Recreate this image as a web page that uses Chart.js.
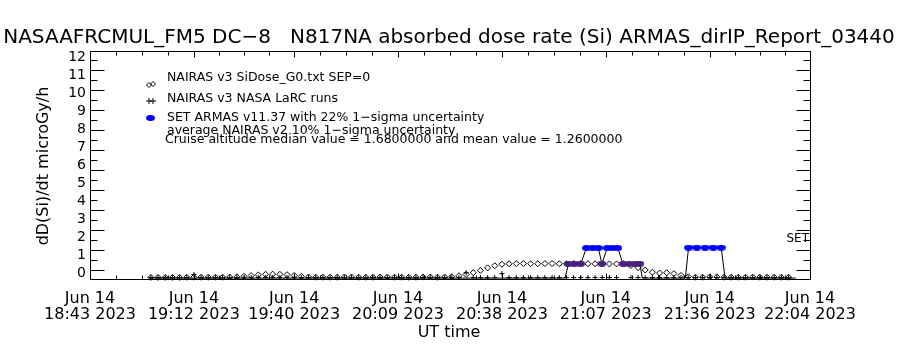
<!DOCTYPE html>
<html>
<head>
<meta charset="utf-8">
<script src="https://cdn.jsdelivr.net/npm/chart.js@4.4.1/dist/chart.umd.min.js"></script>
<style>
  html, body { margin: 0; padding: 0; background: #fff; }
  canvas { display: block; }
</style>
</head>
<body>
<canvas id="dose" width="900" height="350"></canvas>
<script>
// x is minutes after 18:43 UT on Jun 14 2023
var startTime = '18:43';
var tickTimes = ['18:43', '19:12', '19:40', '20:09', '20:38', '21:07', '21:36', '22:04'];
var tickDay = 'Jun 14';
var tickYear = '2023';
var doseTicks = [0, 1, 2, 3, 4, 5, 6, 7, 8, 9, 10, 11, 12];

// NAIRAS model runs (same time stamps for both)
var modelTime = [17, 19, 21, 23, 25, 27, 29, 31, 33, 35, 37, 39, 41, 43, 45, 47, 49, 51, 53, 55,
  57, 59, 61, 63, 65, 67, 69, 71, 73, 75, 77, 79, 81, 83, 85, 87, 89, 91, 93, 95,
  97, 99, 101, 103, 105, 107, 109, 111, 113, 115, 117, 119, 121, 123, 125, 127, 129, 131, 133, 135,
  137, 139, 141, 143, 145, 147, 149, 151, 153, 155, 157, 159, 161, 163, 165, 167, 169, 171, 173, 175,
  177, 179, 181, 183, 185, 187, 189, 191, 193, 195];
var nairasG0 = [0.04, 0.04, 0.04, 0.04, 0.04, 0.05, 0.05, 0.05, 0.05, 0.05, 0.05, 0.06, 0.07, 0.1, 0.14, 0.18, 0.21, 0.22, 0.21, 0.19,
  0.15, 0.1, 0.06, 0.05, 0.05, 0.05, 0.05, 0.06, 0.06, 0.05, 0.05, 0.05, 0.06, 0.06, 0.05, 0.05, 0.05, 0.05, 0.06, 0.06,
  0.05, 0.06, 0.08, 0.13, 0.2, 0.3, 0.43, 0.57, 0.69, 0.77, 0.8, 0.81, 0.81, 0.8, 0.8, 0.81, 0.81, 0.8, 0.8, 0.81,
  0.81, 0.8, 0.8, 0.8, 0.79, 0.79, 0.78, 0.7, 0.58, 0.45, 0.33, 0.28, 0.3, 0.25, 0.15, 0.08, 0.05, 0.05, 0.06, 0.07,
  0.05, 0.05, 0.05, 0.05, 0.06, 0.05, 0.05, 0.05, 0.05, 0.05];
var nairasLarc = [0.03, 0.03, 0.03, 0.03, 0.03, 0.03, 0.2, 0.03, 0.03, 0.03, 0.03, 0.03, 0.03, 0.03, 0.03, 0.03, 0.03, 0.03, 0.03, 0.03,
  0.03, 0.03, 0.03, 0.03, 0.03, 0.03, 0.03, 0.03, 0.03, 0.03, 0.03, 0.03, 0.03, 0.03, 0.03, 0.03, 0.03, 0.03, 0.03, 0.03,
  0.03, 0.03, 0.03, 0.03, 0.3, 0.03, 0.03, 0.03, 0.03, 0.25, 0.03, 0.03, 0.03, 0.03, 0.03, 0.03, 0.03, 0.03, 0.03, 0.03,
  0.03, 0.03, 0.03, 0.03, 0.03, 0.03, 0.85, 0.03, 0.03, 0.03, 0.03, 0.03, 0.03, 0.03, 0.03, 0.03, 0.03, 0.03, 0.03, 0.03,
  0.03, 0.03, 0.03, 0.03, 0.03, 0.03, 0.03, 0.03, 0.03, 0.03];

// SET ARMAS measurements
var setTime = [16.6, 40, 80, 120, 132.6, 133.6, 135.3, 137.0, 138.6, 140.3, 141.9, 142.9, 144.4, 145.9, 147.3,
  148.8, 150.5, 152.2, 153.5, 154.2, 166.2, 167.1, 169.4, 171.7, 174.0, 176.2, 177.3, 197];
var setDose = [0, 0, 0, 0, 0, 0.8, 0.8, 0.8, 1.68, 1.68, 1.68, 0.8, 1.68, 1.68, 1.68,
  0.8, 0.8, 0.8, 0.8, 0, 0, 1.7, 1.7, 1.7, 1.7, 1.7, 0, 0];

var titleText = 'NASAAFRCMUL_FM5 DC\u22128   N817NA absorbed dose rate (Si) ARMAS_dirIP_Report_03440';
var legendText = ['NAIRAS v3 SiDose_G0.txt SEP=0', 'NAIRAS v3 NASA LaRC runs',
  'SET ARMAS v11.37 with 22% 1\u2212sigma uncertainty', 'average NAIRAS v2 10% 1\u2212sigma uncertainty',
  'Cruise altitude median value = 1.6800000 and mean value = 1.2600000'];

function toMinutes(hm) {
  var p = hm.split(':');
  var s = startTime.split(':');
  return (+p[0] * 60 + +p[1]) - (+s[0] * 60 + +s[1]);
}

function pairs(xs, ys) {
  return xs.map(function (x, i) { return { x: x, y: ys[i] }; });
}

function makeBead(color) {
  var c = document.createElement('canvas');
  c.width = 9; c.height = 6;
  var g = c.getContext('2d');
  g.fillStyle = color;
  g.beginPath();
  g.ellipse(4.5, 3, 4.5, 3, 0, 0, Math.PI * 2);
  g.fill();
  return c;
}
var blueBead = makeBead('#0000ff');
var purpleBead = makeBead('#4a1f7c');

var FONT = "'DejaVu Sans', sans-serif";

var framePlugin = {
  id: 'frame',
  afterDraw: function (chart) {
    var ctx = chart.ctx, a = chart.chartArea;
    var L = Math.round(a.left) + 0.5, R = Math.round(a.right) + 0.5;
    var T = Math.round(a.top) + 0.5, B = Math.round(a.bottom) + 0.5;
    ctx.save();
    ctx.strokeStyle = '#000';
    ctx.lineWidth = 1;
    ctx.strokeRect(L, T, R - L, B - T);

    // y tick marks, inward on both sides
    var ft = chart.scales.frameTicks;
    ctx.beginPath();
    for (var k = 0; k <= 21; k++) {
      var py = Math.round(ft.getPixelForValue(k)) + 0.5;
      var len = (k % 2 === 0) ? 14 : 7;
      ctx.moveTo(L, py); ctx.lineTo(L + len, py);
      ctx.moveTo(R, py); ctx.lineTo(R - len, py);
    }
    // x tick marks with minor subdivisions
    var xs = chart.scales.x;
    var major = tickTimes.map(toMinutes);
    for (var i = 0; i < major.length; i++) {
      var px = Math.round(xs.getPixelForValue(major[i])) + 0.5;
      ctx.moveTo(px, T); ctx.lineTo(px, T + 6);
      ctx.moveTo(px, B); ctx.lineTo(px, B - 6);
      if (i < major.length - 1) {
        for (var m = 1; m < 4; m++) {
          var v = major[i] + (major[i + 1] - major[i]) * m / 4;
          var qx = Math.round(xs.getPixelForValue(v)) + 0.5;
          ctx.moveTo(qx, T); ctx.lineTo(qx, T + 4);
          ctx.moveTo(qx, B); ctx.lineTo(qx, B - 4);
        }
      }
    }
    ctx.stroke();

    // titles
    ctx.fillStyle = '#000';
    ctx.textBaseline = 'middle';
    ctx.textAlign = 'center';
    ctx.font = '20px ' + FONT;
    ctx.fillText(titleText, 449, 38);
    ctx.font = '16px ' + FONT;
    ctx.fillText('UT time', 449, 333);
    ctx.save();
    ctx.translate(44, 166);
    ctx.rotate(-Math.PI / 2);
    ctx.fillText('dD(Si)/dt microGy/h', 0, 0);
    ctx.restore();

    ctx.textAlign = 'right';
    ctx.font = '12px ' + FONT;
    ctx.fillText('SET', 809, 239);

    // legend
    ctx.textAlign = 'left';
    ctx.font = '12.5px ' + FONT;
    ctx.fillText(legendText[0], 167, 78);
    ctx.fillText(legendText[1], 167, 99);
    ctx.fillText(legendText[2], 167, 118);
    ctx.fillText(legendText[3], 167, 131);
    ctx.fillText(legendText[4], 165, 140);

    ctx.fillStyle = 'rgba(0,0,0,0)';
    Chart.helpers.drawPoint(ctx, { pointStyle: 'rectRot', radius: 2.5, borderWidth: 1 }, 149, 85);
    Chart.helpers.drawPoint(ctx, { pointStyle: 'rectRot', radius: 2.5, borderWidth: 1 }, 153, 84);
    Chart.helpers.drawPoint(ctx, { pointStyle: 'cross', radius: 3, borderWidth: 1 }, 149, 101);
    Chart.helpers.drawPoint(ctx, { pointStyle: 'cross', radius: 3, borderWidth: 1 }, 153, 101);
    ctx.drawImage(blueBead, 146, 115);
    ctx.restore();
  }
};

var ctx = document.getElementById('dose');
var chart = new Chart(ctx, {
  type: 'scatter',
  data: {
    datasets: [{
      label: 'SET ARMAS',
      data: pairs(setTime, setDose),
      showLine: true,
      borderColor: '#000',
      borderWidth: 1,
      tension: 0,
      clip: false,
      pointStyle: function (c) {
        return (c.raw && c.raw.y > 1.2) ? blueBead : purpleBead;
      },
      pointRadius: function (c) {
        return (c.raw && c.raw.y > 0.3) ? 4 : 0;
      }
    }, {
      label: 'NAIRAS v3 NASA LaRC runs',
      data: pairs(modelTime, nairasLarc),
      pointStyle: 'cross',
      pointRadius: 2.5,
      borderColor: '#000',
      backgroundColor: '#000',
      pointBorderWidth: 1,
      clip: false
    }, {
      label: 'NAIRAS v3 SiDose_G0',
      data: pairs(modelTime, nairasG0),
      pointStyle: 'rectRot',
      pointRadius: 3,
      borderColor: '#000',
      backgroundColor: 'rgba(0,0,0,0)',
      pointBorderWidth: 1,
      clip: false
    }]
  },
  options: {
    responsive: false,
    animation: false,
    events: [],
    layout: { padding: { top: 51, right: 90, left: 0, bottom: 0 } },
    plugins: { legend: { display: false }, tooltip: { enabled: false } },
    scales: {
      x: {
        type: 'linear',
        min: 0,
        max: toMinutes(tickTimes[tickTimes.length - 1]),
        grid: { display: false, drawTicks: false },
        border: { display: false },
        afterBuildTicks: function (s) {
          s.ticks = tickTimes.map(function (t) { return { value: toMinutes(t) }; });
        },
        afterFit: function (s) { s.height = 71; },
        ticks: {
          autoSkip: false,
          maxRotation: 0,
          padding: 12,
          color: '#000',
          font: { family: FONT, size: 16, lineHeight: 1.0 },
          callback: function (v, i) { return [tickDay, tickTimes[i] + ' ' + tickYear]; }
        }
      },
      y: {
        min: -0.05,
        max: 12.65,
        grid: { display: false, drawTicks: false },
        border: { display: false },
        afterBuildTicks: function (s) {
          s.ticks = doseTicks.map(function (v) { return { value: v }; });
        },
        afterFit: function (s) { s.width = 90; },
        ticks: {
          autoSkip: false,
          padding: 4,
          labelOffset: -5,
          color: '#000',
          font: { family: FONT, size: 14 }
        }
      },
      frameTicks: {
        type: 'linear',
        position: 'left',
        display: false,
        min: -0.9,
        max: 21.9
      }
    }
  },
  plugins: [framePlugin]
});
</script>
</body>
</html>
